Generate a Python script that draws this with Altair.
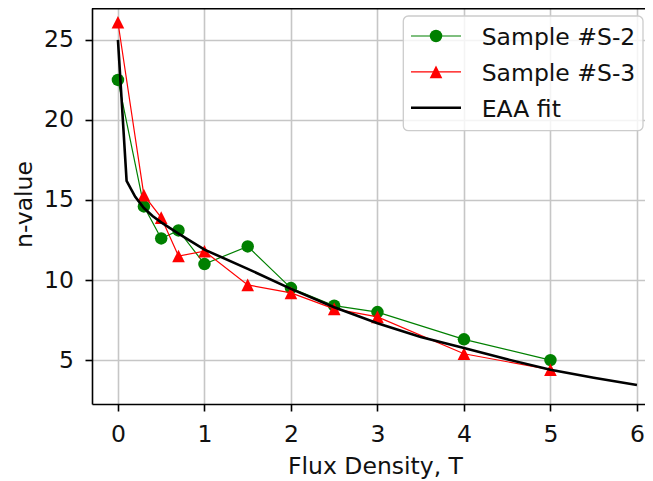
import altair as alt
import pandas as pd

# ---- data ----
x_samples = [0.0, 0.3, 0.5, 0.7, 1.0, 1.5, 2.0, 2.5, 3.0, 4.0, 5.0]
s2_values = [22.5, 14.6, 12.6, 13.1, 11.0, 12.1, 9.5, 8.4, 8.0, 6.3, 5.0]
s3_values = [26.1, 15.3, 13.9, 11.5, 11.8, 9.7, 9.2, 8.2, 7.7, 5.4, 4.4]
fit_x = [0.0, 0.1, 0.2, 0.3, 0.4, 0.5, 0.7, 1.0, 1.5, 2.0, 2.5, 3.0, 3.5, 4.0, 4.5, 5.0, 5.5, 6.0]
fit_y = [25.0, 16.2, 15.2, 14.5, 14.0, 13.6, 12.9, 11.9, 10.7, 9.45, 8.3, 7.3, 6.45, 5.75, 5.05, 4.4, 3.9, 3.45]
series_labels = ["Sample #S-2", "Sample #S-3", "EAA fit"]
x_ticks = [0, 1, 2, 3, 4, 5, 6]
y_ticks = [5, 10, 15, 20, 25]
x_title = "Flux Density, T"
y_title = "n-value"

# ---- styling ----
W, H = 553, 396
FONT = "DejaVu Sans"
FS = 23.5
TXT = "#111111"
GREEN, RED, BLACK = "#008000", "#ff0000", "#000000"
TRI = "M0,-1L1,1L-1,1Z"

df_s2 = pd.DataFrame({"x": x_samples, "y": s2_values})
df_s3 = pd.DataFrame({"x": x_samples, "y": s3_values})
df_fit = pd.DataFrame({"x": fit_x, "y": fit_y})

xscale = alt.Scale(domain=[-0.3, 6.093], nice=False, zero=False)
yscale = alt.Scale(domain=[2.26, 26.99], nice=False, zero=False)

xaxis = alt.Axis(values=x_ticks, title=x_title, titleX=283, titleY=69.3,
                 titleBaseline="alphabetic", titleAlign="center", labelPadding=11,
                 format="d")
yaxis = alt.Axis(values=y_ticks, title=y_title, titleX=-60.3, titleY=196,
                 titleAngle=270, titleBaseline="alphabetic", titleAlign="center",
                 labelPadding=11.5, format="d")

X = alt.X("x:Q", scale=xscale, axis=xaxis)
Y = alt.Y("y:Q", scale=yscale, axis=yaxis)

s2_line = alt.Chart(df_s2).mark_line(color=GREEN, strokeWidth=1.2).encode(x=X, y=Y)
s2_pts = alt.Chart(df_s2).mark_point(filled=True, shape="circle", size=156,
                                     color=GREEN, opacity=1).encode(x=X, y=Y)
s3_line = alt.Chart(df_s3).mark_line(color=RED, strokeWidth=1.2).encode(x=X, y=Y)
s3_pts = alt.Chart(df_s3).mark_point(filled=True, shape=TRI, size=160,
                                     color=RED, opacity=1).encode(x=X, y=Y)
fit_line = alt.Chart(df_fit).mark_line(color=BLACK, strokeWidth=2.6).encode(x=X, y=Y)

one = pd.DataFrame({"k": [0]})
top_spine = alt.Chart(one).mark_rule(color=BLACK, strokeWidth=1.6).encode(
    x=alt.value(0), x2=alt.value(W), y=alt.value(0.8))

# ---- legend (manual) ----
legend_box = alt.Chart(one).mark_rect(
    fill="white", fillOpacity=0.8, stroke="#cccccc", strokeWidth=1.3, cornerRadius=5
).encode(x=alt.value(311.3), x2=alt.value(551), y=alt.value(8), y2=alt.value(122.7))

legend_layers = [legend_box]
styles = [(GREEN, 1.2, "circle", 156), (RED, 1.2, TRI, 160), (BLACK, 2.6, None, None)]
for i, (label, (col, sw, shp, sz)) in enumerate(zip(series_labels, styles)):
    ry = 28 + i * 35.85
    lab = pd.DataFrame({"label": [label]})
    legend_layers.append(alt.Chart(lab).mark_rule(color=col, strokeWidth=sw).encode(
        x=alt.value(319), x2=alt.value(369), y=alt.value(ry)))
    if shp:
        legend_layers.append(alt.Chart(lab).mark_point(
            filled=True, shape=shp, size=sz, color=col, opacity=1
        ).encode(x=alt.value(344), y=alt.value(ry)))
    legend_layers.append(alt.Chart(lab).mark_text(
        align="left", baseline="alphabetic", font=FONT, fontSize=FS, color=TXT
    ).encode(x=alt.value(389.7), y=alt.value(ry + 9), text="label:N"))

chart = alt.layer(
    s2_line, s2_pts, s3_line, s3_pts, fit_line, top_spine, *legend_layers
).properties(
    width=W, height=H,
    autosize=alt.AutoSizeParams(type="none"),
    padding={"left": 84, "top": 0, "right": 0, "bottom": 78},
).configure_view(stroke=None).configure_axis(
    domainColor=BLACK, domainWidth=1.6, tickColor=BLACK, tickWidth=1.6, tickSize=7,
    labelFont=FONT, labelFontSize=FS, labelColor=TXT,
    gridColor="#c6c6c6", gridWidth=1.6,
    titleFont=FONT, titleFontSize=FS, titleFontWeight="normal", titleColor=TXT,
)

chart.save("out.html", embed_options={"renderer": "svg", "actions": False})
